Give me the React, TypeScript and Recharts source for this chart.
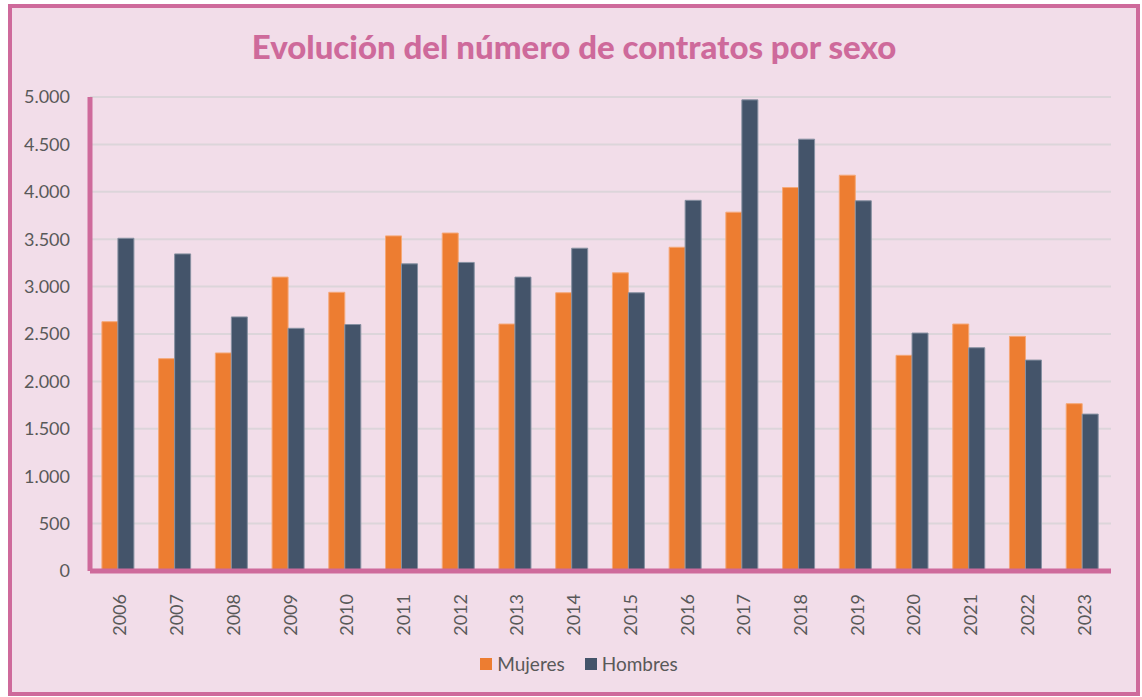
import { BarChart, Bar, XAxis, YAxis, CartesianGrid } from 'recharts';

const years = ['2006', '2007', '2008', '2009', '2010', '2011', '2012', '2013', '2014', '2015', '2016', '2017', '2018', '2019', '2020', '2021', '2022', '2023'];
const mujeres = [2630, 2240, 2300, 3100, 2940, 3535, 3565, 2605, 2935, 3145, 3415, 3785, 4045, 4175, 2275, 2605, 2475, 1765];
const hombres = [3510, 3345, 2680, 2560, 2600, 3240, 3255, 3100, 3405, 2935, 3910, 4970, 4555, 3905, 2510, 2355, 2225, 1655];
const yTicks = [0, 500, 1000, 1500, 2000, 2500, 3000, 3500, 4000, 4500, 5000];

const data = years.map((y, i) => ({ year: y, Mujeres: mujeres[i], Hombres: hombres[i] }));

const PINK = '#CE6A9B';
const BG = '#F2DDE9';
const INK = '#595959';
const ORANGE = '#ED7D31';
const NAVY = '#44546A';
const FONT = 'Lato, "Open Sans", sans-serif';

const fmt = (v: number) => String(v).replace(/\B(?=(\d{3})+(?!\d))/g, '.');

function YearTick(props: any) {
  const { x, y, payload } = props;
  return (
    <text
      transform={`translate(${x + 1},${y + 15}) rotate(-90)`}
      textAnchor="end"
      dominantBaseline="central"
      fill={INK}
      fontSize={18}
      fontFamily={FONT}
    >
      {payload.value}
    </text>
  );
}

export default function App() {
  return (
    <div
      style={{
        position: 'absolute',
        left: 8,
        top: 4,
        width: 1132,
        height: 692,
        boxSizing: 'border-box',
        border: `4px solid ${PINK}`,
        background: BG,
        fontFamily: FONT,
      }}
    >
      <div
        style={{
          position: 'absolute',
          left: 0,
          right: 0,
          top: 16,
          textAlign: 'center',
          color: PINK,
          fontWeight: 900,
          fontSize: 33,
          lineHeight: '44px',
        }}
      >
        Evolución del número de contratos por sexo
      </div>

      <BarChart
        width={1124}
        height={684}
        data={data}
        margin={{ top: 89, right: 25, left: 0, bottom: 0 }}
        barCategoryGap="21%"
        barGap={0}
      >
        <CartesianGrid vertical={false} stroke="#DCD5DA" strokeWidth={2} />
        <XAxis
          dataKey="year"
          height={121}
          axisLine={{ stroke: PINK, strokeWidth: 5 }}
          tickLine={false}
          tick={<YearTick />}
          interval={0}
        />
        <YAxis
          width={78}
          domain={[0, 5000]}
          ticks={yTicks}
          tickFormatter={fmt}
          axisLine={{ stroke: PINK, strokeWidth: 5 }}
          tickLine={false}
          tickSize={0}
          tickMargin={20}
          tick={{ fill: INK, fontSize: 18, fontFamily: FONT }}
        />
        <Bar dataKey="Mujeres" fill={ORANGE} stroke="#F5A878" strokeWidth={1} isAnimationActive={false} />
        <Bar dataKey="Hombres" fill={NAVY} stroke="#8791A2" strokeWidth={1} isAnimationActive={false} />
      </BarChart>

      <div
        style={{
          position: 'absolute',
          top: 644,
          left: 0,
          right: 0,
          display: 'flex',
          justifyContent: 'center',
          gap: 20,
          color: INK,
          fontSize: 19,
          paddingLeft: 10,
        }}
      >
        {[
          { name: 'Mujeres', color: ORANGE },
          { name: 'Hombres', color: NAVY },
        ].map(s => (
          <span key={s.name} style={{ display: 'flex', alignItems: 'center', gap: 5 }}>
            <i style={{ display: 'inline-block', width: 12, height: 12, background: s.color }}></i>
            {s.name}
          </span>
        ))}
      </div>
    </div>
  );
}
